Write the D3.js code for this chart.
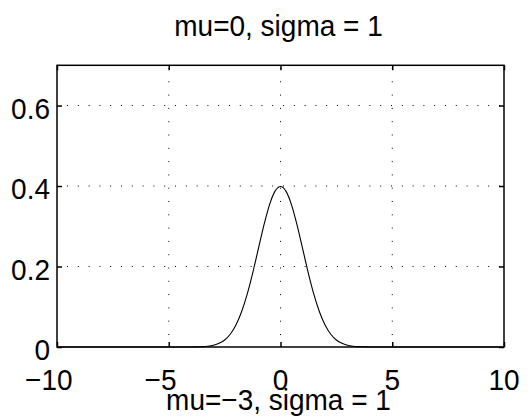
<!DOCTYPE html>
<html>
<head>
<meta charset="utf-8">
<script src="https://cdn.jsdelivr.net/npm/d3@7"></script>
<style>
  html, body { margin: 0; padding: 0; background: #fff; }
  svg text { font-family: "Liberation Sans", Arial, Helvetica, sans-serif; fill: #000; }
</style>
</head>
<body>
<svg id="chart" width="532" height="418"></svg>
<script>
// ---- data ----
const titleText = "mu=0, sigma = 1";
const nextTitleText = "mu=\u22123, sigma = 1";
const xValues = [-10, -4, -3.75, -3.5, -3.25, -3, -2.75, -2.5, -2.25, -2, -1.75, -1.5, -1.25, -1, -0.75, -0.5, -0.25, 0,
                 0.25, 0.5, 0.75, 1, 1.25, 1.5, 1.75, 2, 2.25, 2.5, 2.75, 3, 3.25, 3.5, 3.75, 4, 10];
const densityValues = [0, 0.0001, 0.0004, 0.0009, 0.0020, 0.0044, 0.0091, 0.0175, 0.0317, 0.0540, 0.0863, 0.1295, 0.1826, 0.2420, 0.3011, 0.3521, 0.3867, 0.3989,
                       0.3867, 0.3521, 0.3011, 0.2420, 0.1826, 0.1295, 0.0863, 0.0540, 0.0317, 0.0175, 0.0091, 0.0044, 0.0020, 0.0009, 0.0004, 0.0001, 0];
const xTicks = [-10, -5, 0, 5, 10];
const yTicks = [0, 0.2, 0.4, 0.6];
const xDomain = [-10, 10];
const yDomain = [0, 0.7];

(function () {
// ---- layout ----
const svg = d3.select("#chart");
const pLeft = 57, pRight = 504, pTop = 65.3, pBottom = 347;
const x = d3.scaleLinear().domain(xDomain).range([pLeft, pRight]);
const y = d3.scaleLinear().domain(yDomain).range([pBottom, pTop]);
const fontSize = 28;
const stretch = 1.08;
const place = (sel, px, py) => sel.attr("transform", `translate(${px},${py}) scale(1,${stretch})`);

// grid
const grid = svg.append("g").attr("stroke", "#000").attr("stroke-width", 1);
grid.selectAll("line.vg").data(xTicks.filter(t => t > xDomain[0] && t < xDomain[1]))
  .join("line").attr("class", "vg")
  .attr("x1", d => x(d)).attr("x2", d => x(d))
  .attr("y1", pBottom).attr("y2", pTop)
  .attr("stroke-dasharray", "1,12.3")
  .attr("stroke-dashoffset", -12);
grid.selectAll("line.hg").data(yTicks.filter(t => t > yDomain[0] && t < yDomain[1]))
  .join("line").attr("class", "hg")
  .attr("x1", pLeft).attr("x2", pRight)
  .attr("y1", d => y(d)).attr("y2", d => y(d))
  .attr("stroke-dasharray", "1,9.8")
  .attr("stroke-dashoffset", -10);

// curve
const pts = xValues.map((v, i) => [v, densityValues[i]]);
svg.append("path")
  .datum(pts)
  .attr("fill", "none")
  .attr("stroke", "#000")
  .attr("stroke-width", 1.1)
  .attr("d", d3.line().x(d => x(d[0])).y(d => y(d[1])).curve(d3.curveMonotoneX));

// axes ticks (inward) on all four sides
const tickLen = 5;
const axB = d3.axisBottom(x).tickValues(xTicks).tickSizeInner(-tickLen).tickSizeOuter(0).tickFormat("");
const axT = d3.axisTop(x).tickValues(xTicks).tickSizeInner(-tickLen).tickSizeOuter(0).tickFormat("");
const axL = d3.axisLeft(y).tickValues(yTicks).tickSizeInner(-tickLen).tickSizeOuter(0).tickFormat("");
const axR = d3.axisRight(y).tickValues(yTicks).tickSizeInner(-tickLen).tickSizeOuter(0).tickFormat("");
[[axB, `translate(0,${pBottom})`], [axT, `translate(0,${pTop})`], [axL, `translate(${pLeft},0)`], [axR, `translate(${pRight},0)`]]
  .forEach(([ax, tr]) => {
    const g = svg.append("g").attr("transform", tr).call(ax);
    g.select(".domain").remove();
    g.selectAll(".tick line").attr("stroke", "#000").attr("stroke-width", 1.5);
  });

// box
svg.append("rect")
  .attr("x", pLeft).attr("y", pTop)
  .attr("width", pRight - pLeft).attr("height", pBottom - pTop)
  .attr("fill", "none").attr("stroke", "#000").attr("stroke-width", 1.5);

// tick labels
const fmt = d => (d < 0 ? "\u2212" : "") + String(Math.abs(d));
const xl = svg.append("g");
xTicks.forEach(t => {
  const digits = String(Math.abs(t));
  const tmp = xl.append("text").attr("font-size", fontSize).text(digits);
  const w = tmp.node().getComputedTextLength();
  tmp.remove();
  place(xl.append("text")
    .attr("font-size", fontSize)
    .attr("text-anchor", "end")
    .text(fmt(t)), x(t) + w / 2, 390);
});
const yl = svg.append("g");
yTicks.forEach(t => {
  place(yl.append("text")
    .attr("font-size", fontSize)
    .attr("text-anchor", "end")
    .text(String(t)), 50, y(t) + 13);
});

// titles
place(svg.append("text")
  .attr("font-size", fontSize)
  .attr("text-anchor", "middle")
  .text(titleText), 278.5, 36);
place(svg.append("text")
  .attr("font-size", fontSize)
  .attr("text-anchor", "middle")
  .text(nextTitleText), 278.5, 410);
})();
</script>
</body>
</html>
